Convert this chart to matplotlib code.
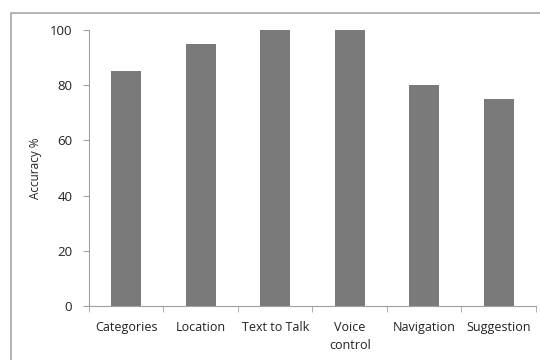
import matplotlib.pyplot as plt
import numpy as np
from matplotlib.lines import Line2D

categories = ['Categories', 'Location', 'Text to Talk', 'Voice\ncontrol',
              'Navigation', 'Suggestion']
accuracy = [85, 95, 100, 100, 80, 75]
yticks = [0, 20, 40, 60, 80, 100]

plt.rcParams['font.family'] = ['Open Sans', 'DejaVu Sans']

fig = plt.figure(figsize=(5.4, 3.6), dpi=100)
ax = fig.add_axes([89/540, 1 - 306/360, 447/540, 276/360])

x = np.arange(len(categories))
ax.bar(x, accuracy, width=0.4, color='#7a7a7a')

ax.set_xlim(-0.5, len(categories) - 0.5)
ax.set_ylim(0, 100)
ax.set_yticks(yticks)
ax.set_xticks(x)
ax.set_xticklabels(categories, fontsize=9, va='top', linespacing=1.45)
ax.set_xticks(np.arange(len(categories) + 1) - 0.5, minor=True)
ax.tick_params(axis='x', which='major', length=0, pad=11, colors='#222222')
ax.tick_params(axis='x', which='minor', length=4, color='#a0a0a0')
ax.tick_params(axis='y', length=4, pad=8, labelsize=9.5, color='#a0a0a0',
               labelcolor='#222222')
ax.set_ylabel('Accuracy %', fontsize=8.5, color='#222222', labelpad=6)

for side in ['top', 'right']:
    ax.spines[side].set_visible(False)
for side in ['left', 'bottom']:
    ax.spines[side].set_color('#a0a0a0')

# outer chart frame
fx, fy = 11/540, 1 - 13/360
fig.add_artist(Line2D([fx, fx, 1], [0, fy, fy], transform=fig.transFigure,
                      color='#a6a6a6', lw=1.2))

fig.savefig('out.png', dpi=100)
